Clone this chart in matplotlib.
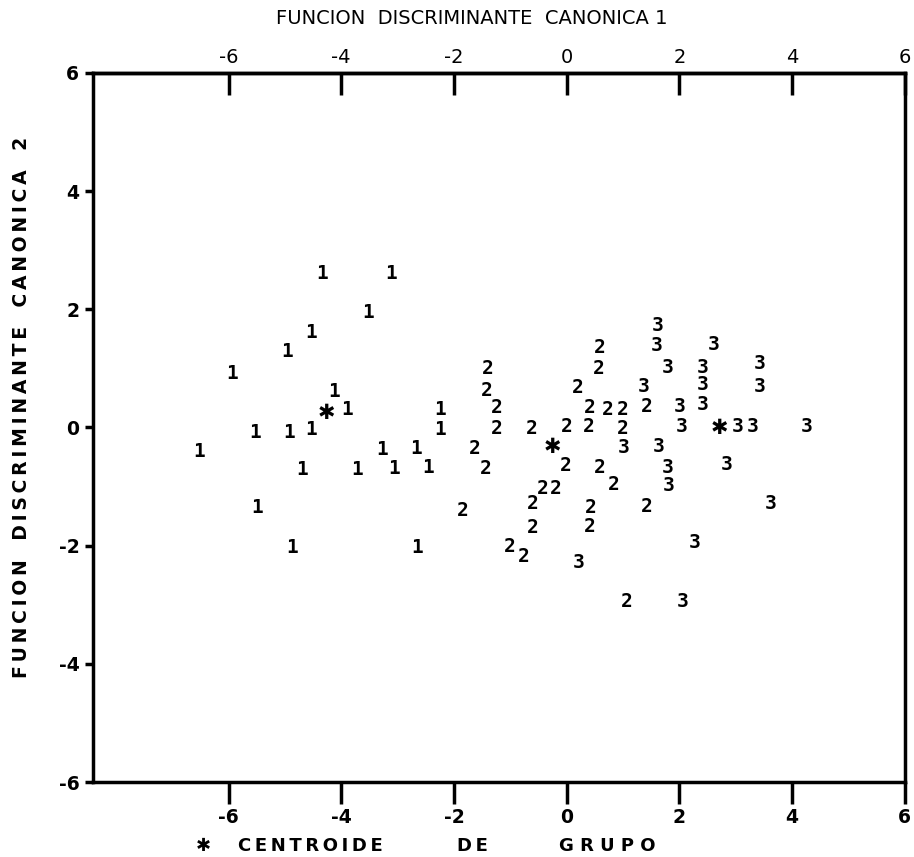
import matplotlib
matplotlib.use("Agg")
import matplotlib.pyplot as plt

# Group 1
g1_x = [-4.34, -3.12, -3.53, -4.54, -4.96, -5.94, -4.13, -3.90, -2.25, -2.25,
        -5.53, -4.93, -4.54, -6.52, -3.28, -2.68, -4.70, -3.72, -3.07, -2.46,
        -5.50, -4.88, -2.66]
g1_y = [2.61, 2.61, 1.94, 1.60, 1.28, 0.92, 0.60, 0.30, 0.31, -0.04,
        -0.08, -0.08, -0.04, -0.41, -0.38, -0.36, -0.72, -0.72, -0.70, -0.67,
        -1.36, -2.04, -2.04]
# Group 2
g2_x = [-1.40, -1.42, -1.24, -1.24, -1.63, -1.44, -1.84, -0.62, 0.00, -0.02,
        -0.43, -0.20, -0.60, -0.60, -1.01, -0.76, 0.20, 0.41, 0.39, 0.73,
        0.99, 0.99, 0.59, 0.57, 0.59, 0.83, 0.43, 0.41, 1.42, 1.42, 1.06]
g2_y = [0.99, 0.63, 0.33, -0.01, -0.36, -0.70, -1.40, -0.01, 0.01, -0.65,
        -1.04, -1.04, -1.29, -1.70, -2.02, -2.19, 0.67, 0.33, 0.01, 0.31,
        0.31, -0.01, 1.35, 0.99, -0.67, -0.97, -1.36, -1.68, 0.35, -1.34, -2.94]
# Group 3
g3_x = [1.61, 1.60, 1.79, 1.37, 1.01, 1.63, 1.79, 1.81, 0.21, 2.61,
        2.41, 3.42, 2.41, 3.42, 2.00, 2.41, 2.04, 3.03, 3.30, 4.26,
        2.84, 3.62, 2.27, 2.06]
g3_y = [1.72, 1.38, 1.02, 0.70, -0.34, -0.33, -0.67, -0.99, -2.29, 1.41,
        1.02, 1.09, 0.72, 0.69, 0.35, 0.38, 0.01, 0.01, 0.01, 0.01,
        -0.63, -1.28, -1.95, -2.95]
# Group centroids
cent_x = [-4.27, -0.25, 2.71]
cent_y = [0.25, -0.33, -0.01]

xticks = [-6, -4, -2, 0, 2, 4, 6]
yticks = [-6, -4, -2, 0, 2, 4, 6]

xlabel_top = "FUNCION  DISCRIMINANTE  CANONICA 1"
ylabel_words = ["FUNCION", "DISCRIMINANTE", "CANONICA", "2"]
legend_words = ["CENTROIDE", "DE", "GRUPO"]

THIN = "\u2009"
ylabel = "   ".join(THIN.join(w) for w in ylabel_words)

fig = plt.figure(figsize=(9.14, 8.57), dpi=100)
ax = fig.add_axes([0.102, 0.0875, 0.888, 0.8275])
ax.set_xlim(-8.4, 6)
ax.set_ylim(-6, 6)

digit_kw = dict(ha="center", va="center", fontsize=14, fontweight="bold",
                family="DejaVu Sans Mono", color="black")
for xs, ys, lab in [(g1_x, g1_y, "1"), (g2_x, g2_y, "2"), (g3_x, g3_y, "3")]:
    for x, y in zip(xs, ys):
        ax.text(x, y, lab, **digit_kw)
for x, y in zip(cent_x, cent_y):
    ax.text(x, y, "✱", ha="center", va="center", fontsize=15,
            fontweight="bold", family="DejaVu Sans")

for s in ax.spines.values():
    s.set_linewidth(2.5)

ax.set_xticks(xticks)
ax.set_xticklabels([str(t) for t in xticks])
ax.set_yticks(yticks)
ax.set_yticklabels([str(t) for t in yticks])
ax.tick_params(axis="x", direction="out", length=16, width=2.5, pad=3,
               labelsize=13.5)
ax.tick_params(axis="y", direction="out", length=6, width=2.5, pad=4,
               labelsize=13.5)
for lab in ax.get_xticklabels() + ax.get_yticklabels():
    lab.set_fontweight("bold")

top = ax.secondary_xaxis("top")
top.set_xticks(xticks)
top.set_xticklabels([str(t) for t in xticks])
top.tick_params(axis="x", direction="in", length=16, width=2.5, pad=4,
                labelsize=14)
top.spines["top"].set_linewidth(2.5)

fig.text(0.516, 0.978, xlabel_top, ha="center", va="center", fontsize=14)
fig.text(0.024, 0.525, ylabel, ha="center", va="center", rotation=90,
         fontsize=13.5, fontweight="bold")

# legend line at the bottom
leg_kw = dict(va="center", fontsize=13, fontweight="bold")
fig.text(0.223, 0.013, "✱", ha="center", **leg_kw)
fig.text(0.260, 0.013, THIN.join(legend_words[0]), ha="left", **leg_kw)
fig.text(0.500, 0.013, THIN.join(legend_words[1]), ha="left", **leg_kw)
fig.text(0.612, 0.013, " ".join(legend_words[2]), ha="left", **leg_kw)

fig.savefig("out.png", dpi=100)
